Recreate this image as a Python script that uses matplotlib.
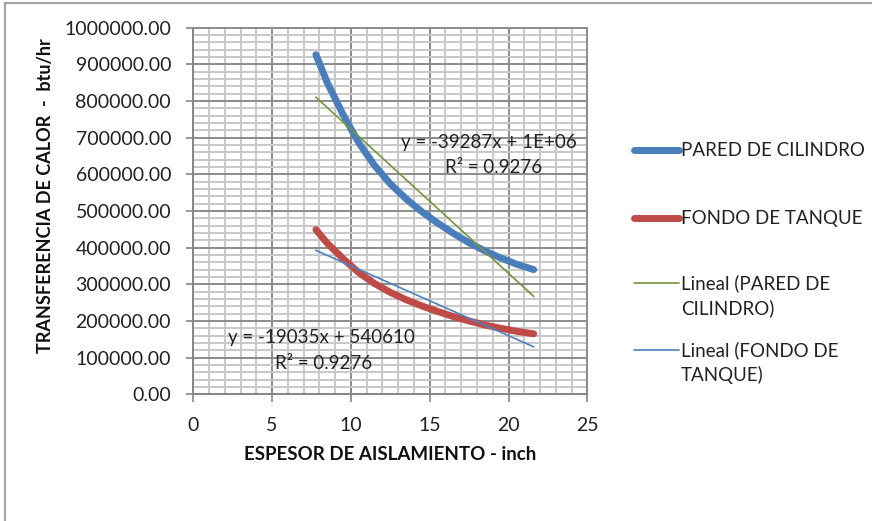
import matplotlib
matplotlib.use("Agg")
import matplotlib.pyplot as plt
from matplotlib.ticker import MultipleLocator, FormatStrFormatter
from matplotlib.lines import Line2D
import numpy as np

# ---- data ----
espesor = [7.78, 8.5, 9.5, 10.5, 11.5, 12.5, 13.5, 14.5, 15.5, 16.5, 17.5, 18.5, 19.5, 20.5, 21.6]
pared_cilindro = [926000, 850000, 763000, 686000, 624000, 574000, 533000, 498000,
                  467000, 439000, 413000, 391000, 372000, 355000, 340000]
fondo_tanque = [449000, 412000, 370000, 332000, 302000, 278000, 258000, 241000,
                226000, 212000, 200000, 189000, 180000, 172000, 165000]

trend_pared = (-39287, 1115780)   # slope, intercept
trend_fondo = (-19035, 540610)
r2_pared = 0.9276
r2_fondo = 0.9276

series_names = ["PARED DE CILINDRO", "FONDO DE TANQUE",
                "Lineal (PARED DE\nCILINDRO)", "Lineal (FONDO DE\nTANQUE)"]

FONT = ["Lato", "DejaVu Sans"]
plt.rcParams['font.family'] = FONT

W, H = 872, 521
fig = plt.figure(figsize=(W / 100, H / 100), dpi=100)

# chart area border (top and left visible)
fig.add_artist(Line2D([5 / W, 1.0], [1 - 3 / H, 1 - 3 / H], color="#a6a6a6", lw=1.6,
                      transform=fig.transFigure))
fig.add_artist(Line2D([5 / W, 5 / W], [1 - 3 / H, 0.0], color="#a6a6a6", lw=1.6,
                      transform=fig.transFigure))

left, right, top, bottom = 193.3, 587.3, 27.6, 394.3
ax = fig.add_axes([left / W, 1 - bottom / H, (right - left) / W, (bottom - top) / H])

ax.set_xlim(0, 25)
ax.set_ylim(0, 1000000)
ax.xaxis.set_major_locator(MultipleLocator(5))
ax.xaxis.set_minor_locator(MultipleLocator(1))
ax.yaxis.set_major_locator(MultipleLocator(100000))
ax.yaxis.set_minor_locator(MultipleLocator(20000))
ax.yaxis.set_major_formatter(FormatStrFormatter("%.2f"))

ax.grid(which="minor", color="#c8c8c8", lw=1.4, zorder=0)
ax.grid(which="major", color="#8c8c8c", lw=1.4, zorder=0)
ax.set_axisbelow(True)

for s in ["top", "right"]:
    ax.spines[s].set_color("#8c8c8c")
    ax.spines[s].set_linewidth(1.4)
for s in ["left", "bottom"]:
    ax.spines[s].set_color("#868686")
    ax.spines[s].set_linewidth(1.4)

ax.tick_params(axis="x", which="major", direction="inout", length=12, width=1.2,
               color="#868686", labelsize=14, pad=10, labelcolor="#222222")
ax.tick_params(axis="y", which="major", direction="out", length=5, width=1.2,
               color="#868686", labelsize=14, pad=11, labelcolor="#222222")
ax.tick_params(which="minor", length=0)

# series
ax.plot(espesor, pared_cilindro, color="#4a7ebb", lw=5, solid_capstyle="round", zorder=3)
ax.plot(espesor, fondo_tanque, color="#be4b48", lw=5, solid_capstyle="round", zorder=3)

xs = np.array([espesor[0], espesor[-1]])
ax.plot(xs, trend_pared[0] * xs + trend_pared[1], color="#77933c", lw=1.2, zorder=4)
ax.plot(xs, trend_fondo[0] * xs + trend_fondo[1], color="#4f81bd", lw=1.2, zorder=4)

# equations
eq_kw = dict(fontsize=13.5, color="#222222", zorder=5)
ax.text(13.2, 687000, "y = -39287x + 1E+06", ha="left", va="center", **eq_kw)
ax.text(15.97, 619000, "R² = %.4f" % r2_pared, ha="left", va="center", **eq_kw)
ax.text(2.2, 156000, "y = -19035x + 540610", ha="left", va="center", **eq_kw)
ax.text(5.17, 85000, "R² = %.4f" % r2_fondo, ha="left", va="center", **eq_kw)

ax.set_xlabel("ESPESOR DE AISLAMIENTO - inch", fontsize=13.5, fontweight="bold",
              color="#111111", labelpad=9)
fig.text(46 / W, 1 - 196 / H, "TRANSFERENCIA DE CALOR  -  btu/hr", rotation=90,
         ha="center", va="center", fontsize=13, fontweight="bold", color="#111111")

# legend (manual, in figure pixels)
def fx(p):
    return p / W

def fy(p):
    return 1 - p / H

leg = [
    (150, "#4a7ebb", 5, [series_names[0]]),
    (218, "#be4b48", 5, [series_names[1]]),
    (283, "#77933c", 1.2, series_names[2].split("\n")),
    (350, "#4f81bd", 1.2, series_names[3].split("\n")),
]
for y, c, lw, lines in leg:
    fig.add_artist(Line2D([fx(634), fx(679)], [fy(y), fy(y)], color=c, lw=lw,
                          solid_capstyle="round", transform=fig.transFigure))
    for i, t in enumerate(lines):
        fig.text(fx(681), fy(y + i * 25), t, ha="left", va="center", fontsize=13.5,
                 color="#222222")

fig.savefig("out.png", dpi=100)
